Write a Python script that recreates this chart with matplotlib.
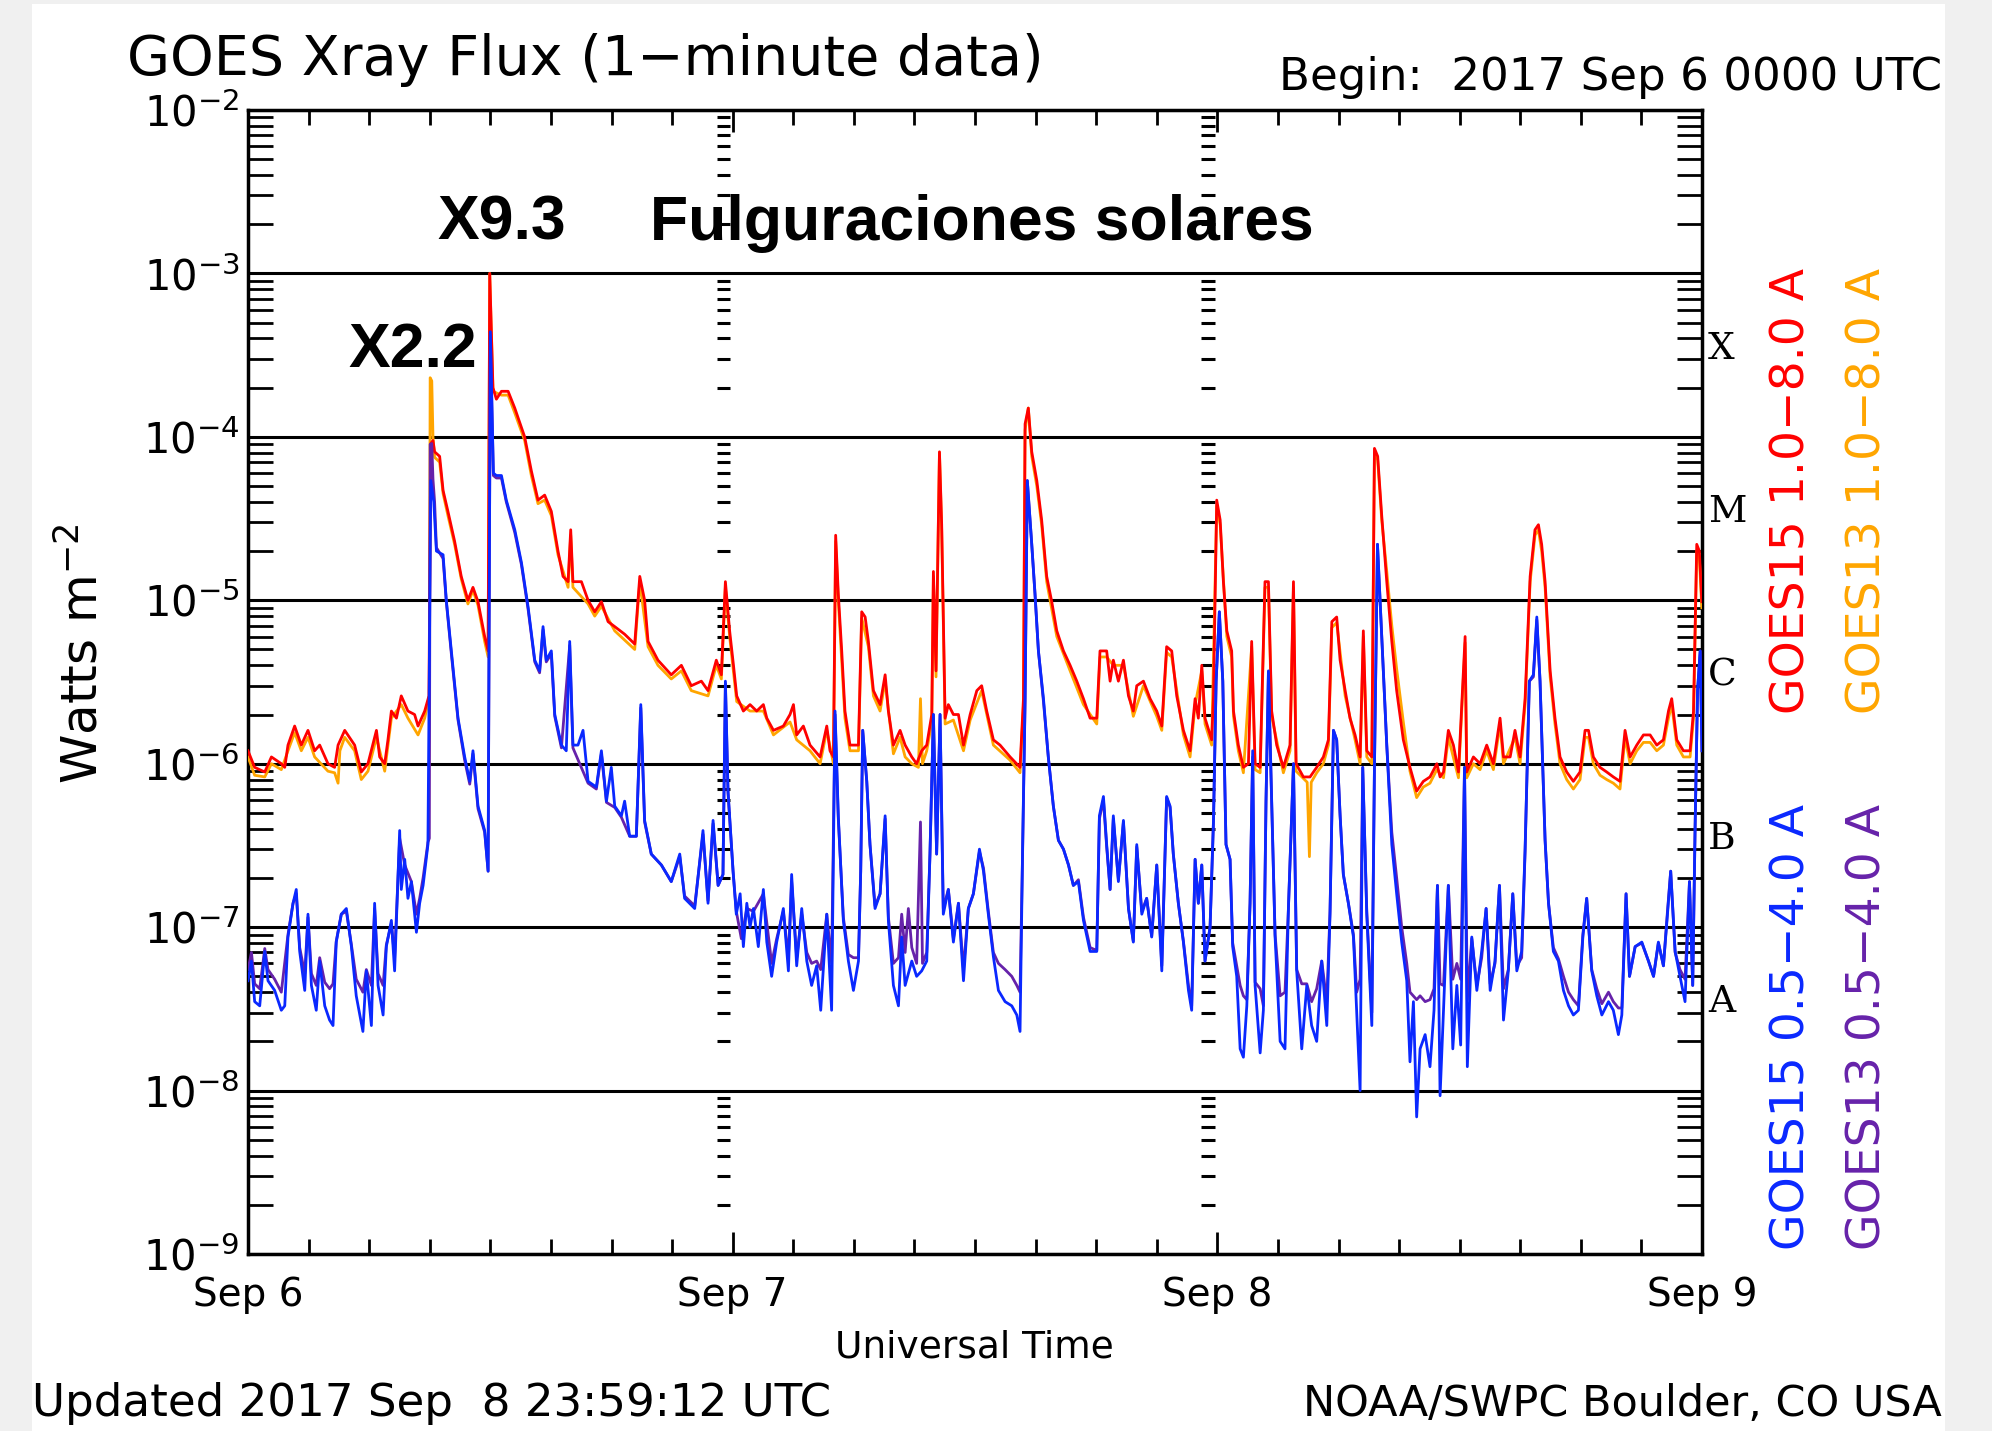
import numpy as np
import matplotlib
matplotlib.use("Agg")
import matplotlib.pyplot as plt
import matplotlib.transforms as mtransforms
from matplotlib.patches import Rectangle
from matplotlib.ticker import LogLocator, MultipleLocator, NullFormatter

# GOES x-ray flux, hours after 2017 Sep 6 00 UT, W m^-2
goes15_long = [
    (0.00, 1.2e-6), (0.33, 9.5e-7), (0.83, 8.9e-7), (1.16, 1.1e-6), (1.65, 1.0e-6), (1.82, 9.5e-7),
    (1.98, 1.3e-6), (2.31, 1.7e-6), (2.64, 1.3e-6), (2.97, 1.6e-6), (3.30, 1.2e-6), (3.55, 1.3e-6),
    (3.96, 1.0e-6), (4.29, 9.5e-7), (4.46, 1.3e-6), (4.79, 1.6e-6), (5.28, 1.3e-6), (5.61, 8.9e-7),
    (5.94, 1.0e-6), (6.36, 1.6e-6), (6.52, 1.1e-6), (6.77, 1.0e-6), (6.93, 1.4e-6), (7.10, 2.1e-6),
    (7.35, 1.9e-6), (7.59, 2.6e-6), (7.92, 2.1e-6), (8.25, 2.0e-6), (8.42, 1.7e-6), (8.75, 2.1e-6),
    (8.96, 2.6e-6), (9.05, 9.1e-5), (9.16, 9.5e-5), (9.24, 8.1e-5), (9.49, 7.6e-5), (9.66, 4.7e-5),
    (9.90, 3.5e-5), (10.23, 2.3e-5), (10.56, 1.4e-5), (10.89, 1.0e-5), (11.14, 1.2e-5), (11.39, 9.8e-6),
    (11.72, 6.0e-6), (11.89, 4.9e-6), (11.97, 1.0e-3), (12.13, 2.0e-4), (12.30, 1.7e-4), (12.55, 1.9e-4),
    (12.88, 1.9e-4), (13.21, 1.5e-4), (13.70, 1.0e-4), (14.03, 6.2e-5), (14.36, 4.1e-5), (14.69, 4.4e-5),
    (15.02, 3.5e-5), (15.35, 2.0e-5), (15.60, 1.4e-5), (15.85, 1.3e-5), (15.98, 2.7e-5), (16.09, 1.3e-5),
    (16.51, 1.3e-5), (16.84, 1.0e-5), (17.17, 8.5e-6), (17.50, 9.8e-6), (17.83, 7.4e-6), (18.16, 6.9e-6),
    (18.65, 6.2e-6), (19.15, 5.4e-6), (19.40, 1.4e-5), (19.64, 1.0e-5), (19.81, 5.6e-6), (20.30, 4.3e-6),
    (20.96, 3.5e-6), (21.46, 4.0e-6), (21.95, 3.0e-6), (22.45, 3.2e-6), (22.78, 2.8e-6), (23.19, 4.3e-6),
    (23.44, 3.5e-6), (23.64, 1.3e-5), (23.85, 6.5e-6), (24.04, 4.0e-6), (24.20, 2.6e-6), (24.53, 2.1e-6),
    (24.86, 2.3e-6), (25.19, 2.1e-6), (25.52, 2.3e-6), (25.69, 1.9e-6), (26.02, 1.6e-6), (26.51, 1.7e-6),
    (26.84, 2.0e-6), (27.01, 2.3e-6), (27.17, 1.5e-6), (27.50, 1.7e-6), (27.83, 1.3e-6), (28.33, 1.1e-6),
    (28.66, 1.7e-6), (28.82, 1.2e-6), (28.99, 1.1e-6), (29.10, 2.5e-5), (29.23, 1.1e-5), (29.40, 4.9e-6),
    (29.56, 2.1e-6), (29.81, 1.3e-6), (30.23, 1.3e-6), (30.39, 8.5e-6), (30.56, 7.9e-6), (30.72, 5.6e-6),
    (30.97, 2.8e-6), (31.30, 2.3e-6), (31.55, 3.5e-6), (31.71, 2.1e-6), (31.96, 1.3e-6), (32.29, 1.6e-6),
    (32.54, 1.3e-6), (32.87, 1.1e-6), (33.11, 1.0e-6), (33.36, 1.2e-6), (33.61, 1.3e-6), (33.86, 2.0e-6),
    (33.94, 1.5e-5), (34.07, 3.7e-6), (34.24, 8.1e-5), (34.35, 2.9e-5), (34.52, 1.9e-6), (34.68, 2.3e-6),
    (34.93, 2.0e-6), (35.18, 2.0e-6), (35.43, 1.3e-6), (35.76, 2.0e-6), (36.09, 2.8e-6), (36.33, 3.0e-6),
    (36.58, 2.1e-6), (36.91, 1.4e-6), (37.24, 1.3e-6), (37.74, 1.1e-6), (38.23, 9.5e-7), (38.40, 2.5e-6),
    (38.48, 1.2e-4), (38.64, 1.5e-4), (38.81, 8.1e-5), (39.06, 5.4e-5), (39.30, 3.1e-5), (39.55, 1.4e-5),
    (39.80, 9.8e-6), (40.05, 6.5e-6), (40.38, 4.9e-6), (40.71, 4.0e-6), (41.04, 3.2e-6), (41.37, 2.5e-6),
    (41.70, 1.9e-6), (42.03, 1.9e-6), (42.19, 4.9e-6), (42.52, 4.9e-6), (42.69, 3.2e-6), (42.85, 4.3e-6),
    (43.10, 3.2e-6), (43.35, 4.3e-6), (43.60, 2.6e-6), (43.84, 2.1e-6), (44.01, 3.0e-6), (44.34, 3.2e-6),
    (44.67, 2.5e-6), (45.00, 2.1e-6), (45.25, 1.7e-6), (45.49, 5.2e-6), (45.74, 4.9e-6), (45.99, 2.6e-6),
    (46.32, 1.6e-6), (46.65, 1.2e-6), (46.90, 2.5e-6), (47.06, 1.9e-6), (47.23, 4.0e-6), (47.39, 1.9e-6),
    (47.72, 1.4e-6), (47.81, 2.6e-6), (47.97, 4.1e-5), (48.14, 3.1e-5), (48.30, 1.3e-5), (48.47, 6.5e-6),
    (48.71, 4.9e-6), (48.80, 2.1e-6), (49.04, 1.3e-6), (49.29, 9.5e-7), (49.54, 1.0e-6), (49.70, 5.6e-6),
    (49.87, 1.0e-6), (50.12, 9.5e-7), (50.36, 1.3e-5), (50.53, 1.3e-5), (50.69, 2.1e-6), (50.94, 1.3e-6),
    (51.27, 9.5e-7), (51.60, 1.3e-6), (51.77, 1.3e-5), (51.90, 1.0e-6), (52.26, 8.3e-7), (52.59, 8.3e-7),
    (52.92, 9.5e-7), (53.25, 1.1e-6), (53.50, 1.4e-6), (53.67, 7.4e-6), (53.91, 7.9e-6), (54.08, 4.3e-6),
    (54.33, 2.8e-6), (54.57, 1.9e-6), (54.82, 1.5e-6), (55.07, 1.1e-6), (55.23, 6.5e-6), (55.40, 1.2e-6),
    (55.65, 1.1e-6), (55.78, 8.5e-5), (55.94, 7.6e-5), (56.14, 3.3e-5), (56.39, 1.3e-5), (56.64, 5.6e-6),
    (56.88, 2.8e-6), (57.21, 1.4e-6), (57.54, 9.5e-7), (57.87, 6.8e-7), (58.20, 7.8e-7), (58.53, 8.3e-7),
    (58.87, 1.0e-6), (59.03, 8.3e-7), (59.20, 8.9e-7), (59.44, 1.6e-6), (59.69, 1.3e-6), (59.94, 8.9e-7),
    (60.27, 6.0e-6), (60.35, 8.9e-7), (60.68, 1.1e-6), (61.01, 1.0e-6), (61.34, 1.3e-6), (61.67, 1.0e-6),
    (62.00, 1.9e-6), (62.17, 1.1e-6), (62.50, 1.1e-6), (62.74, 1.6e-6), (62.99, 1.1e-6), (63.24, 2.5e-6),
    (63.49, 1.4e-5), (63.73, 2.7e-5), (63.90, 2.9e-5), (64.06, 2.2e-5), (64.23, 1.3e-5), (64.48, 3.7e-6),
    (64.72, 1.9e-6), (64.97, 1.1e-6), (65.30, 8.9e-7), (65.63, 7.8e-7), (65.96, 8.9e-7), (66.21, 1.6e-6),
    (66.38, 1.6e-6), (66.62, 1.1e-6), (66.95, 9.5e-7), (67.28, 8.9e-7), (67.61, 8.3e-7), (67.94, 7.8e-7),
    (68.19, 1.6e-6), (68.44, 1.1e-6), (68.77, 1.3e-6), (69.10, 1.5e-6), (69.43, 1.5e-6), (69.76, 1.3e-6),
    (70.09, 1.4e-6), (70.34, 2.1e-6), (70.50, 2.5e-6), (70.75, 1.4e-6), (71.08, 1.2e-6), (71.41, 1.2e-6),
    (71.58, 2.1e-6), (71.74, 2.2e-5), (71.87, 2.0e-5), (71.99, 9.8e-6),
]

goes13_long = [
    (0.00, 1.1e-6), (0.33, 8.5e-7), (0.83, 8.3e-7), (1.16, 1.0e-6), (1.65, 9.2e-7), (1.98, 1.2e-6),
    (2.31, 1.55e-6), (2.64, 1.2e-6), (2.97, 1.45e-6), (3.30, 1.1e-6), (3.96, 9.0e-7), (4.29, 8.8e-7),
    (4.46, 7.6e-7), (4.55, 1.2e-6), (4.79, 1.45e-6), (5.28, 1.2e-6), (5.61, 8.0e-7), (5.94, 9.0e-7),
    (6.36, 1.45e-6), (6.77, 9.0e-7), (7.10, 1.9e-6), (7.59, 2.3e-6), (7.92, 1.9e-6), (8.42, 1.5e-6),
    (8.75, 1.9e-6), (8.98, 2.6e-6), (9.02, 2.3e-4), (9.10, 2.2e-4), (9.16, 1.0e-4), (9.24, 7.5e-5),
    (9.49, 7.0e-5), (9.66, 4.5e-5), (9.90, 3.3e-5), (10.23, 2.2e-5), (10.56, 1.35e-5), (10.89, 9.5e-6),
    (11.14, 1.15e-5), (11.39, 9.3e-6), (11.72, 5.6e-6), (11.89, 4.5e-6), (11.97, 1.0e-3), (12.13, 1.9e-4),
    (12.55, 1.8e-4), (12.88, 1.8e-4), (13.21, 1.4e-4), (13.70, 9.5e-5), (14.03, 5.8e-5), (14.36, 3.9e-5),
    (14.69, 4.1e-5), (15.02, 3.3e-5), (15.35, 1.9e-5), (15.85, 1.2e-5), (15.98, 2.5e-5), (16.09, 1.2e-5),
    (16.84, 9.5e-6), (17.17, 8.0e-6), (17.50, 9.2e-6), (18.16, 6.5e-6), (19.15, 5.0e-6), (19.40, 1.3e-5),
    (19.81, 5.2e-6), (20.30, 4.0e-6), (20.96, 3.3e-6), (21.46, 3.7e-6), (21.95, 2.8e-6), (22.78, 2.6e-6),
    (23.19, 4.0e-6), (23.44, 3.3e-6), (23.64, 1.2e-5), (23.85, 6.0e-6), (24.20, 2.4e-6), (24.86, 2.1e-6),
    (25.52, 2.1e-6), (26.02, 1.5e-6), (26.84, 1.8e-6), (27.17, 1.4e-6), (27.83, 1.2e-6), (28.33, 1.0e-6),
    (28.66, 1.6e-6), (28.99, 1.0e-6), (29.10, 2.3e-5), (29.23, 1.0e-5), (29.56, 1.9e-6), (29.81, 1.2e-6),
    (30.23, 1.2e-6), (30.39, 7.8e-6), (30.72, 5.2e-6), (30.97, 2.6e-6), (31.30, 2.1e-6), (31.55, 3.2e-6),
    (31.96, 1.15e-6), (32.29, 1.45e-6), (32.54, 1.1e-6), (32.87, 1.0e-6), (33.20, 9.5e-7), (33.30, 2.5e-6),
    (33.40, 1.0e-6), (33.61, 1.2e-6), (33.86, 1.8e-6), (33.94, 1.4e-5), (34.07, 3.4e-6), (34.24, 8.0e-5),
    (34.35, 2.7e-5), (34.52, 1.75e-6), (34.93, 1.85e-6), (35.43, 1.2e-6), (35.76, 1.85e-6), (36.33, 2.8e-6),
    (36.91, 1.3e-6), (37.74, 1.05e-6), (38.23, 8.8e-7), (38.40, 2.3e-6), (38.48, 1.1e-4), (38.64, 1.5e-4),
    (38.81, 7.6e-5), (39.06, 5.0e-5), (39.30, 2.9e-5), (39.55, 1.3e-5), (40.05, 6.0e-6), (40.71, 3.7e-6),
    (41.37, 2.3e-6), (42.03, 1.75e-6), (42.19, 4.5e-6), (42.52, 4.5e-6), (42.85, 4.0e-6), (43.35, 4.0e-6),
    (43.84, 1.95e-6), (44.34, 3.0e-6), (45.00, 1.95e-6), (45.25, 1.6e-6), (45.49, 4.8e-6), (45.74, 4.5e-6),
    (46.32, 1.5e-6), (46.65, 1.1e-6), (46.90, 2.3e-6), (47.23, 3.7e-6), (47.39, 1.75e-6), (47.72, 1.3e-6),
    (47.97, 3.8e-5), (48.14, 2.9e-5), (48.47, 6.0e-6), (48.71, 4.5e-6), (48.80, 1.95e-6), (49.04, 1.2e-6),
    (49.29, 8.8e-7), (49.70, 5.2e-6), (49.87, 9.2e-7), (50.12, 8.8e-7), (50.36, 1.2e-5), (50.53, 1.2e-5),
    (50.69, 1.95e-6), (51.27, 8.8e-7), (51.60, 1.2e-6), (51.77, 1.2e-5), (51.90, 9.0e-7), (52.45, 7.7e-7),
    (52.56, 2.7e-7), (52.65, 7.7e-7), (52.92, 8.8e-7), (53.25, 1.0e-6), (53.50, 1.3e-6), (53.67, 6.8e-6),
    (53.91, 7.3e-6), (54.33, 2.6e-6), (54.82, 1.4e-6), (55.07, 1.0e-6), (55.23, 6.0e-6), (55.40, 1.1e-6),
    (55.65, 1.0e-6), (55.78, 8.0e-5), (55.94, 7.2e-5), (56.14, 3.1e-5), (56.39, 1.5e-5), (56.64, 7.0e-6),
    (56.88, 3.8e-6), (57.21, 1.8e-6), (57.54, 9.0e-7), (57.87, 6.2e-7), (58.20, 7.2e-7), (58.53, 7.6e-7),
    (58.87, 9.2e-7), (59.20, 8.2e-7), (59.44, 1.45e-6), (59.94, 8.2e-7), (60.27, 5.5e-6), (60.35, 8.2e-7),
    (60.68, 1.0e-6), (61.01, 9.2e-7), (61.34, 1.2e-6), (61.67, 9.2e-7), (62.00, 1.75e-6), (62.17, 1.0e-6),
    (62.74, 1.45e-6), (62.99, 1.0e-6), (63.24, 2.3e-6), (63.49, 1.3e-5), (63.73, 2.5e-5), (63.90, 2.7e-5),
    (64.06, 2.0e-5), (64.23, 1.2e-5), (64.48, 3.4e-6), (64.72, 1.75e-6), (64.97, 1.0e-6), (65.30, 8.0e-7),
    (65.63, 7.0e-7), (65.96, 8.0e-7), (66.21, 1.45e-6), (66.38, 1.45e-6), (66.62, 1.0e-6), (66.95, 8.5e-7),
    (67.28, 8.0e-7), (67.61, 7.6e-7), (67.94, 7.0e-7), (68.19, 1.45e-6), (68.44, 1.0e-6), (68.77, 1.2e-6),
    (69.10, 1.35e-6), (69.43, 1.35e-6), (69.76, 1.2e-6), (70.09, 1.3e-6), (70.34, 1.9e-6), (70.50, 2.3e-6),
    (70.75, 1.3e-6), (71.08, 1.1e-6), (71.41, 1.1e-6), (71.58, 1.9e-6), (71.74, 2.0e-5), (71.87, 1.8e-5),
    (71.99, 9.0e-6),
]

goes15_short = [
    (0.00, 4.7e-8), (0.17, 6.2e-8), (0.33, 3.5e-8), (0.58, 3.3e-8), (0.83, 7.1e-8), (0.99, 4.7e-8),
    (1.32, 4.1e-8), (1.65, 3.1e-8), (1.82, 3.3e-8), (1.98, 8.7e-8), (2.23, 1.4e-7), (2.39, 1.7e-7),
    (2.56, 7.1e-8), (2.81, 4.1e-8), (2.97, 1.2e-7), (3.14, 4.4e-8), (3.38, 3.1e-8), (3.55, 6.2e-8),
    (3.80, 3.3e-8), (4.04, 2.7e-8), (4.21, 2.5e-8), (4.37, 8.1e-8), (4.62, 1.2e-7), (4.87, 1.3e-7),
    (5.12, 7.6e-8), (5.36, 3.8e-8), (5.69, 2.3e-8), (5.86, 5.4e-8), (6.11, 2.5e-8), (6.27, 1.4e-7),
    (6.44, 4.4e-8), (6.69, 2.9e-8), (6.85, 7.6e-8), (7.10, 1.1e-7), (7.26, 5.4e-8), (7.51, 3.9e-7),
    (7.59, 1.7e-7), (7.76, 2.6e-7), (7.92, 1.5e-7), (8.09, 1.9e-7), (8.34, 9.3e-8), (8.50, 1.4e-7),
    (8.67, 1.8e-7), (8.91, 3.2e-7), (9.05, 5.4e-5), (9.20, 4.0e-5), (9.33, 2.0e-5), (9.66, 1.9e-5),
    (9.82, 1.0e-5), (10.07, 4.9e-6), (10.40, 1.9e-6), (10.73, 1.1e-6), (10.98, 7.8e-7), (11.14, 1.2e-6),
    (11.39, 5.5e-7), (11.72, 3.9e-7), (11.89, 2.2e-7), (12.00, 4.4e-4), (12.15, 6.0e-5), (12.30, 5.8e-5),
    (12.55, 5.8e-5), (12.79, 4.1e-5), (13.21, 2.7e-5), (13.54, 1.7e-5), (13.87, 9.1e-6), (14.20, 4.3e-6),
    (14.44, 3.7e-6), (14.61, 6.9e-6), (14.77, 4.3e-6), (15.02, 4.9e-6), (15.19, 2.0e-6), (15.52, 1.3e-6),
    (15.76, 1.2e-6), (15.93, 5.6e-6), (16.09, 1.3e-6), (16.34, 1.3e-6), (16.59, 1.6e-6), (16.84, 7.8e-7),
    (17.25, 7.2e-7), (17.50, 1.2e-6), (17.75, 5.9e-7), (17.99, 9.5e-7), (18.16, 5.5e-7), (18.49, 4.8e-7),
    (18.65, 5.9e-7), (18.90, 3.6e-7), (19.23, 3.6e-7), (19.45, 2.3e-6), (19.64, 4.5e-7), (19.97, 2.8e-7),
    (20.47, 2.4e-7), (20.96, 1.9e-7), (21.38, 2.8e-7), (21.62, 1.5e-7), (22.12, 1.3e-7), (22.53, 3.9e-7),
    (22.78, 1.4e-7), (23.03, 4.5e-7), (23.28, 1.8e-7), (23.52, 2.1e-7), (23.64, 3.2e-6), (23.77, 6.8e-7),
    (24.02, 2.2e-7), (24.18, 1.2e-7), (24.37, 1.6e-7), (24.53, 7.6e-8), (24.70, 1.4e-7), (24.86, 1.0e-7),
    (25.03, 1.3e-7), (25.27, 7.6e-8), (25.52, 1.7e-7), (25.69, 8.1e-8), (25.93, 5.0e-8), (26.18, 8.1e-8),
    (26.51, 1.3e-7), (26.76, 5.4e-8), (26.92, 2.1e-7), (27.17, 5.8e-8), (27.42, 1.3e-7), (27.67, 6.2e-8),
    (27.91, 4.4e-8), (28.16, 5.8e-8), (28.36, 3.1e-8), (28.66, 1.2e-7), (28.90, 3.1e-8), (29.07, 2.1e-6),
    (29.23, 4.8e-7), (29.48, 1.1e-7), (29.73, 6.2e-8), (29.98, 4.1e-8), (30.23, 6.2e-8), (30.34, 2.2e-7),
    (30.44, 1.6e-6), (30.64, 7.8e-7), (30.80, 3.2e-7), (31.05, 1.3e-7), (31.30, 1.6e-7), (31.55, 4.8e-7),
    (31.71, 1.1e-7), (31.96, 4.4e-8), (32.21, 3.3e-8), (32.37, 8.7e-8), (32.54, 4.4e-8), (32.87, 6.2e-8),
    (33.11, 5.0e-8), (33.36, 5.4e-8), (33.61, 6.2e-8), (33.77, 2.8e-7), (33.94, 2.0e-6), (34.10, 2.8e-7),
    (34.27, 2.0e-6), (34.43, 1.2e-7), (34.68, 1.7e-7), (34.93, 8.1e-8), (35.18, 1.4e-7), (35.43, 4.7e-8),
    (35.67, 1.3e-7), (35.92, 1.6e-7), (36.22, 3.0e-7), (36.42, 2.2e-7), (36.66, 1.2e-7), (36.91, 6.6e-8),
    (37.16, 4.1e-8), (37.49, 3.5e-8), (37.82, 3.3e-8), (38.07, 2.9e-8), (38.23, 2.3e-8), (38.36, 3.2e-7),
    (38.48, 2.5e-6), (38.59, 5.4e-5), (38.81, 2.2e-5), (38.97, 1.1e-5), (39.14, 4.9e-6), (39.39, 2.5e-6),
    (39.63, 1.1e-6), (39.88, 5.5e-7), (40.13, 3.4e-7), (40.38, 3.0e-7), (40.63, 2.4e-7), (40.87, 1.8e-7),
    (41.12, 1.9e-7), (41.37, 1.1e-7), (41.70, 7.1e-8), (42.03, 7.1e-8), (42.16, 4.8e-7), (42.36, 6.3e-7),
    (42.52, 3.2e-7), (42.69, 1.7e-7), (42.85, 4.8e-7), (43.10, 1.9e-7), (43.35, 4.5e-7), (43.60, 1.3e-7),
    (43.84, 8.1e-8), (44.01, 3.2e-7), (44.26, 1.2e-7), (44.50, 1.5e-7), (44.75, 8.7e-8), (45.00, 2.4e-7),
    (45.25, 5.4e-8), (45.49, 6.3e-7), (45.66, 5.5e-7), (45.82, 2.8e-7), (46.07, 1.4e-7), (46.32, 8.1e-8),
    (46.57, 4.1e-8), (46.73, 3.1e-8), (46.90, 2.6e-7), (47.06, 1.4e-7), (47.23, 2.4e-7), (47.39, 6.2e-8),
    (47.64, 1.0e-7), (47.81, 4.5e-7), (47.94, 3.2e-6), (48.10, 8.5e-6), (48.27, 3.2e-6), (48.43, 3.2e-7),
    (48.63, 2.6e-7), (48.76, 7.6e-8), (48.96, 5.0e-8), (49.13, 1.8e-8), (49.29, 1.6e-8), (49.46, 3.3e-8),
    (49.62, 1.4e-7), (49.75, 1.2e-6), (49.87, 4.4e-8), (50.12, 1.7e-8), (50.28, 3.1e-8), (50.41, 5.9e-7),
    (50.53, 3.7e-6), (50.69, 5.9e-7), (50.86, 8.7e-8), (51.11, 2.0e-8), (51.35, 1.8e-8), (51.52, 1.3e-7),
    (51.77, 1.0e-6), (51.93, 5.4e-8), (52.18, 1.8e-8), (52.43, 4.4e-8), (52.67, 2.5e-8), (52.92, 2.0e-8),
    (53.17, 6.2e-8), (53.42, 2.5e-8), (53.58, 1.2e-7), (53.75, 1.6e-6), (53.91, 1.4e-6), (54.08, 4.8e-7),
    (54.24, 2.1e-7), (54.49, 1.4e-7), (54.74, 8.7e-8), (54.90, 3.1e-8), (55.07, 1.0e-8), (55.20, 9.5e-7),
    (55.40, 1.2e-7), (55.65, 2.5e-8), (55.78, 9.5e-7), (55.93, 2.2e-5), (56.14, 6.0e-6), (56.39, 1.3e-6),
    (56.64, 3.2e-7), (56.88, 1.6e-7), (57.13, 8.1e-8), (57.38, 4.7e-8), (57.54, 1.5e-8), (57.71, 3.5e-8),
    (57.87, 6.9e-9), (58.04, 1.8e-8), (58.29, 2.2e-8), (58.53, 1.4e-8), (58.73, 3.1e-8), (58.90, 1.8e-7),
    (59.03, 9.3e-9), (59.20, 3.1e-8), (59.44, 1.8e-7), (59.66, 1.8e-8), (59.86, 4.4e-8), (60.05, 1.9e-8),
    (60.24, 9.5e-7), (60.38, 1.4e-8), (60.60, 8.7e-8), (60.85, 4.1e-8), (61.09, 7.1e-8), (61.31, 1.3e-7),
    (61.51, 4.1e-8), (61.75, 6.2e-8), (61.97, 1.8e-7), (62.17, 2.7e-8), (62.41, 5.4e-8), (62.63, 1.6e-7),
    (62.83, 5.4e-8), (63.07, 7.1e-8), (63.24, 3.0e-7), (63.45, 3.2e-6), (63.65, 3.5e-6), (63.82, 7.9e-6),
    (63.98, 3.2e-6), (64.23, 3.4e-7), (64.40, 1.4e-7), (64.64, 7.1e-8), (64.89, 6.2e-8), (65.14, 4.1e-8),
    (65.39, 3.3e-8), (65.63, 2.9e-8), (65.88, 3.1e-8), (66.10, 8.7e-8), (66.29, 1.5e-7), (66.54, 5.4e-8),
    (66.79, 3.8e-8), (67.04, 2.9e-8), (67.37, 3.5e-8), (67.61, 3.1e-8), (67.86, 2.2e-8), (68.03, 2.9e-8),
    (68.24, 1.6e-7), (68.41, 5.0e-8), (68.69, 7.6e-8), (69.02, 8.1e-8), (69.35, 6.2e-8), (69.60, 5.0e-8),
    (69.84, 8.1e-8), (70.09, 5.8e-8), (70.29, 1.2e-7), (70.45, 2.2e-7), (70.67, 7.1e-8), (70.91, 5.0e-8),
    (71.16, 3.5e-8), (71.38, 1.9e-7), (71.54, 4.4e-8), (71.66, 4.2e-7), (71.78, 2.8e-6), (71.91, 4.9e-6),
    (72.00, 1.2e-6),
]

goes13_short = [
    (0.00, 5.5e-8), (0.17, 7.0e-8), (0.33, 4.5e-8), (0.58, 4.2e-8), (0.83, 7.4e-8), (0.99, 5.5e-8),
    (1.32, 4.8e-8), (1.65, 4.0e-8), (1.98, 9.0e-8), (2.23, 1.4e-7), (2.39, 1.6e-7), (2.56, 7.5e-8),
    (2.81, 5.2e-8), (2.97, 1.15e-7), (3.14, 5.2e-8), (3.38, 4.4e-8), (3.55, 6.5e-8), (3.80, 4.6e-8),
    (4.04, 4.2e-8), (4.21, 4.5e-8), (4.37, 8.2e-8), (4.62, 1.2e-7), (4.87, 1.25e-7), (5.12, 7.8e-8),
    (5.36, 4.8e-8), (5.69, 4.0e-8), (5.86, 5.5e-8), (6.11, 4.4e-8), (6.27, 1.3e-7), (6.44, 5.2e-8),
    (6.69, 4.4e-8), (6.85, 7.8e-8), (7.10, 1.05e-7), (7.26, 6.5e-8), (7.51, 3.5e-7), (7.76, 2.4e-7),
    (8.09, 1.9e-7), (8.34, 1.2e-7), (8.50, 1.5e-7), (8.67, 2.0e-7), (8.91, 3.3e-7), (8.98, 3.5e-7),
    (9.02, 9.0e-5), (9.10, 9.1e-5), (9.16, 5.5e-5), (9.24, 4.0e-5), (9.33, 2.1e-5), (9.66, 1.8e-5),
    (9.82, 9.8e-6), (10.07, 4.7e-6), (10.40, 1.85e-6), (10.73, 1.05e-6), (10.98, 7.5e-7), (11.14, 1.15e-6),
    (11.39, 5.3e-7), (11.72, 3.8e-7), (11.89, 2.2e-7), (12.00, 4.2e-4), (12.15, 5.8e-5), (12.30, 5.6e-5),
    (12.55, 5.6e-5), (12.79, 4.0e-5), (13.21, 2.6e-5), (13.54, 1.65e-5), (13.87, 8.8e-6), (14.20, 4.2e-6),
    (14.44, 3.6e-6), (14.61, 6.6e-6), (14.77, 4.2e-6), (15.02, 4.7e-6), (15.19, 1.95e-6), (15.52, 1.25e-6),
    (15.93, 5.3e-6), (16.09, 1.25e-6), (16.84, 7.6e-7), (17.25, 7.0e-7), (17.50, 1.15e-6), (17.75, 5.8e-7),
    (18.16, 5.4e-7), (18.49, 4.7e-7), (18.90, 3.6e-7), (19.23, 3.6e-7), (19.45, 2.2e-6), (19.64, 4.4e-7),
    (19.97, 2.8e-7), (20.47, 2.4e-7), (20.96, 1.9e-7), (21.38, 2.7e-7), (21.62, 1.55e-7), (22.12, 1.35e-7),
    (22.53, 3.7e-7), (22.78, 1.45e-7), (23.03, 4.3e-7), (23.28, 1.8e-7), (23.52, 2.1e-7), (23.64, 3.1e-6),
    (23.77, 6.6e-7), (24.02, 2.2e-7), (24.18, 1.25e-7), (24.43, 8.5e-8), (24.70, 1.3e-7), (25.03, 1.25e-7),
    (25.52, 1.6e-7), (25.93, 6.0e-8), (26.18, 8.5e-8), (26.51, 1.25e-7), (26.76, 6.5e-8), (26.92, 1.9e-7),
    (27.17, 6.5e-8), (27.42, 1.2e-7), (27.67, 7.0e-8), (27.91, 6.0e-8), (28.16, 6.2e-8), (28.36, 5.5e-8),
    (28.66, 1.2e-7), (28.90, 6.0e-8), (29.07, 2.0e-6), (29.23, 4.6e-7), (29.48, 1.15e-7), (29.73, 6.8e-8),
    (29.98, 6.5e-8), (30.23, 6.5e-8), (30.34, 2.2e-7), (30.44, 1.6e-6), (30.64, 7.8e-7), (30.80, 3.2e-7),
    (31.05, 1.35e-7), (31.30, 1.6e-7), (31.55, 4.6e-7), (31.71, 1.15e-7), (31.96, 6.0e-8), (32.21, 6.5e-8),
    (32.37, 1.2e-7), (32.54, 7.0e-8), (32.70, 1.3e-7), (32.87, 7.5e-8), (33.11, 6.0e-8), (33.30, 4.4e-7),
    (33.40, 6.0e-8), (33.61, 7.0e-8), (33.77, 2.8e-7), (33.94, 2.0e-6), (34.10, 2.8e-7), (34.27, 2.0e-6),
    (34.43, 1.3e-7), (34.68, 1.7e-7), (34.93, 8.5e-8), (35.18, 1.4e-7), (35.43, 5.5e-8), (35.67, 1.3e-7),
    (35.92, 1.6e-7), (36.22, 2.9e-7), (36.42, 2.3e-7), (36.66, 1.25e-7), (36.91, 7.0e-8), (37.16, 6.0e-8),
    (37.49, 5.5e-8), (37.82, 5.0e-8), (38.07, 4.4e-8), (38.23, 4.0e-8), (38.36, 3.0e-7), (38.48, 2.4e-6),
    (38.59, 5.4e-5), (38.81, 2.2e-5), (38.97, 1.1e-5), (39.14, 4.9e-6), (39.39, 2.4e-6), (39.63, 1.1e-6),
    (39.88, 5.5e-7), (40.13, 3.4e-7), (40.38, 3.0e-7), (40.63, 2.4e-7), (40.87, 1.8e-7), (41.12, 1.95e-7),
    (41.37, 1.15e-7), (41.70, 7.5e-8), (42.03, 7.2e-8), (42.16, 4.6e-7), (42.36, 6.0e-7), (42.52, 3.1e-7),
    (42.69, 1.7e-7), (42.85, 4.6e-7), (43.10, 1.95e-7), (43.35, 4.4e-7), (43.60, 1.3e-7), (43.84, 8.2e-8),
    (44.01, 3.1e-7), (44.26, 1.25e-7), (44.50, 1.5e-7), (44.75, 8.8e-8), (45.00, 2.4e-7), (45.25, 5.8e-8),
    (45.49, 6.2e-7), (45.66, 5.4e-7), (45.82, 2.8e-7), (46.07, 1.4e-7), (46.32, 8.2e-8), (46.57, 4.4e-8),
    (46.73, 3.3e-8), (46.90, 2.6e-7), (47.06, 1.4e-7), (47.23, 2.4e-7), (47.39, 6.2e-8), (47.64, 1.0e-7),
    (47.81, 4.5e-7), (47.94, 3.2e-6), (48.10, 8.5e-6), (48.27, 3.2e-6), (48.43, 3.2e-7), (48.63, 2.6e-7),
    (48.76, 8.0e-8), (48.96, 5.8e-8), (49.13, 4.4e-8), (49.29, 3.8e-8), (49.46, 3.6e-8), (49.62, 1.4e-7),
    (49.75, 1.1e-6), (49.87, 4.6e-8), (50.12, 4.2e-8), (50.28, 3.3e-8), (50.41, 5.8e-7), (50.53, 3.6e-6),
    (50.69, 5.8e-7), (50.86, 9.0e-8), (51.11, 3.8e-8), (51.35, 4.0e-8), (51.52, 1.3e-7), (51.77, 1.0e-6),
    (51.93, 5.5e-8), (52.18, 4.5e-8), (52.43, 4.5e-8), (52.67, 3.5e-8), (52.92, 4.2e-8), (53.17, 6.2e-8),
    (53.42, 3.5e-8), (53.58, 1.25e-7), (53.75, 1.6e-6), (53.91, 1.4e-6), (54.08, 4.8e-7), (54.24, 2.1e-7),
    (54.49, 1.4e-7), (54.74, 9.0e-8), (54.90, 4.0e-8), (55.07, 4.8e-8), (55.20, 9.5e-7), (55.40, 1.25e-7),
    (55.65, 3.0e-8), (55.78, 9.5e-7), (55.93, 2.2e-5), (56.14, 6.0e-6), (56.39, 1.3e-6), (56.64, 3.8e-7),
    (56.88, 2.0e-7), (57.13, 1.0e-7), (57.38, 6.0e-8), (57.54, 4.0e-8), (57.87, 3.6e-8), (58.04, 3.8e-8),
    (58.29, 3.5e-8), (58.53, 3.6e-8), (58.73, 4.2e-8), (58.90, 1.8e-7), (59.03, 4.5e-8), (59.20, 4.4e-8),
    (59.44, 1.8e-7), (59.66, 4.8e-8), (59.86, 6.0e-8), (60.05, 4.8e-8), (60.24, 9.5e-7), (60.38, 3.6e-8),
    (60.60, 8.5e-8), (60.85, 4.4e-8), (61.09, 6.5e-8), (61.31, 1.3e-7), (61.51, 4.5e-8), (61.75, 6.0e-8),
    (61.97, 1.8e-7), (62.17, 4.2e-8), (62.41, 5.5e-8), (62.63, 1.6e-7), (62.83, 5.8e-8), (63.07, 6.5e-8),
    (63.24, 2.9e-7), (63.45, 3.2e-6), (63.65, 3.4e-6), (63.82, 7.6e-6), (63.98, 3.2e-6), (64.23, 3.4e-7),
    (64.40, 1.4e-7), (64.64, 7.5e-8), (64.89, 6.4e-8), (65.14, 5.0e-8), (65.39, 4.0e-8), (65.63, 3.6e-8),
    (65.88, 3.3e-8), (66.10, 9.0e-8), (66.29, 1.5e-7), (66.54, 5.5e-8), (66.79, 4.2e-8), (67.04, 3.4e-8),
    (67.37, 4.0e-8), (67.61, 3.5e-8), (67.86, 3.2e-8), (68.03, 3.2e-8), (68.24, 1.6e-7), (68.41, 5.0e-8),
    (68.69, 7.6e-8), (69.02, 8.0e-8), (69.35, 6.2e-8), (69.60, 5.0e-8), (69.84, 8.0e-8), (70.09, 5.8e-8),
    (70.29, 1.25e-7), (70.45, 2.2e-7), (70.67, 7.0e-8), (70.91, 5.5e-8), (71.16, 4.8e-8), (71.38, 1.9e-7),
    (71.54, 4.4e-8), (71.66, 4.2e-7), (71.78, 2.8e-6), (71.91, 4.9e-6), (72.00, 1.2e-6),
]

day_ticks = [0, 24, 48, 72]
day_labels = ["Sep 6", "Sep 7", "Sep 8", "Sep 9"]
flare_classes = ["X", "M", "C", "B", "A"]
class_levels = [10**-3.46, 10**-4.46, 10**-5.46, 10**-6.46, 10**-7.46]

RED, ORANGE, BLUE, PURPLE = "#ff0000", "#ffa500", "#0a28ff", "#6622aa"
W, H = 1992, 1431


def fx(x):
    return x / W


def fy(y):
    return 1 - y / H


fig = plt.figure(figsize=(W / 100, H / 100), dpi=100, facecolor="#f0f0f0")
# white panel behind everything
fig.patches.append(Rectangle((fx(32), 0), fx(1945) - fx(32), fy(4), transform=fig.transFigure,
                             facecolor="white", edgecolor="none", zorder=-10))

ax = fig.add_axes([fx(248), fy(1254), fx(1454), 1144 / H], zorder=1)
ax.set_facecolor("white")
ax.set_yscale("log")
ax.set_ylim(1e-9, 1e-2)
ax.set_xlim(0, 72)

for series, col in [(goes13_long, ORANGE), (goes15_long, RED), (goes13_short, PURPLE), (goes15_short, BLUE)]:
    t, f = zip(*series)
    ax.plot(t, f, color=col, lw=2.0, zorder=3)

# decade grid lines
ax.yaxis.set_major_locator(LogLocator(base=10, numticks=20))
ax.yaxis.set_minor_locator(LogLocator(base=10, subs=np.arange(2, 10), numticks=20))
ax.yaxis.set_minor_formatter(NullFormatter())
ax.grid(True, which="major", axis="y", color="black", lw=2.2, zorder=1)
ax.set_axisbelow(True)

ax.set_xticks(day_ticks)
ax.set_xticklabels(day_labels)
ax.xaxis.set_minor_locator(MultipleLocator(3))

ax.tick_params(axis="y", which="both", direction="in", left=True, right=True, width=2,
               labelsize=30, pad=6, color="black")
ax.tick_params(axis="y", which="major", length=18)
ax.tick_params(axis="y", which="minor", length=18)
ax.tick_params(axis="x", which="both", direction="in", top=True, bottom=True, width=2,
               labelsize=28, pad=16)
ax.tick_params(axis="x", which="major", length=16)
ax.tick_params(axis="x", which="minor", length=11)
for sp in ax.spines.values():
    sp.set_linewidth(2.5)

# dotted day separators (short dashes at every log tick)
minor_vals = [m * 10.0**e for e in range(-9, -2) for m in range(2, 10)]
for tb in day_ticks[1:3]:
    ax.hlines(minor_vals, tb - 0.8, tb - 0.12, color="black", lw=2.2, zorder=2)

trans = mtransforms.blended_transform_factory(ax.transAxes, ax.transData)
for lab, lev in zip(flare_classes, class_levels):
    ax.text(1.004, lev, lab, transform=trans, ha="left", va="center", fontsize=27,
            family="DejaVu Serif", clip_on=False)

fig.text(fx(127), fy(75), "GOES Xray Flux (1\u2212minute data)", fontsize=40, va="baseline")
fig.text(fx(1942), fy(90), "Begin:  2017 Sep 6 0000 UTC", fontsize=32.5, ha="right", va="baseline")
fig.text(fx(974), fy(1357), "Universal Time", fontsize=27, ha="center", va="baseline")
fig.text(fx(32), fy(1416), "Updated 2017 Sep  8 23:59:12 UTC", fontsize=32.5, va="baseline")
fig.text(fx(1942), fy(1416), "NOAA/SWPC Boulder, CO USA", fontsize=31, ha="right", va="baseline")
fig.text(fx(83), fy(654), "Watts m$^{-2}$", fontsize=36, rotation=90, ha="center", va="center")

fig.text(fx(1792), fy(714), "GOES15 1.0\u22128.0 A", color=RED, fontsize=34, rotation=90, ha="center", va="bottom")
fig.text(fx(1868), fy(714), "GOES13 1.0\u22128.0 A", color=ORANGE, fontsize=34, rotation=90, ha="center", va="bottom")
fig.text(fx(1792), fy(1250), "GOES15 0.5\u22124.0 A", color=BLUE, fontsize=34, rotation=90, ha="center", va="bottom")
fig.text(fx(1868), fy(1250), "GOES13 0.5\u22124.0 A", color=PURPLE, fontsize=34, rotation=90, ha="center", va="bottom")

bold = dict(fontsize=45, fontweight="bold", family="Liberation Sans", va="baseline", zorder=5)
fig.text(fx(437), fy(240), "X9.3", **bold)
fig.text(fx(650), fy(240), "Fulguraciones solares", **bold)
fig.text(fx(348), fy(367), "X2.2", **bold)

fig.savefig("out.png", dpi=100, facecolor=fig.get_facecolor())
